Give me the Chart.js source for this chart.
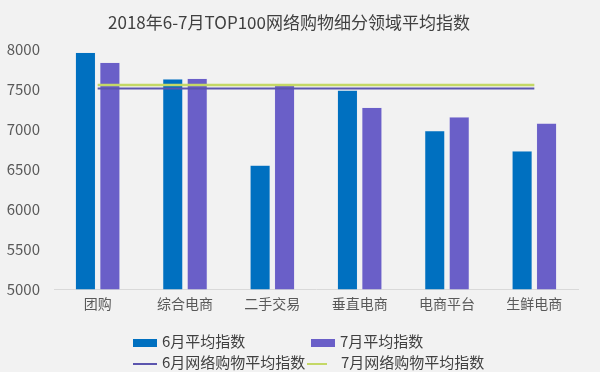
<!DOCTYPE html>
<html>
<head>
<meta charset="utf-8">
<script src="https://cdn.jsdelivr.net/npm/chart.js@4/dist/chart.umd.min.js"></script>
<style>
  body { margin: 0; background: #f2f2f2; }
  #wrap { position: relative; width: 600px; height: 372px; background: #f2f2f2; }
  #legend { position: absolute; left: 133px; top: 330px; font-family: "Noto Sans CJK SC", sans-serif; font-size: 15px; color: #404040; }
  .row { position: relative; height: 21px; }
  .item { position: absolute; top: 0; white-space: nowrap; line-height: 21px; }
  .sw { display: inline-block; vertical-align: middle; margin-right: 5px; }
</style>
</head>
<body>
<div id="wrap">
  <canvas id="chart" width="600" height="372"></canvas>
  <div id="legend"></div>
</div>
<script>
const categories = ['团购', '综合电商', '二手交易', '垂直电商', '电商平台', '生鲜电商']
const juneIndex = [7962, 7630, 6550, 7488, 6983, 6730]
const julyIndex = [7835, 7637, 7550, 7272, 7155, 7075]
// the two averages drawn as flat lines across all categories
const juneAvg = [7512, 7512, 7512, 7512, 7512, 7512]
const julyAvg = [7554, 7554, 7554, 7554, 7554, 7554]
const yTicks = [5000, 5500, 6000, 6500, 7000, 7500, 8000]

const font = '"Noto Sans CJK SC", sans-serif'
const blue = '#0070c0'
const purple = '#6a5fc8'
const lineBlue = '#5b55ae'
const lineGreen = '#c4d866'

const ctx = document.getElementById('chart').getContext('2d')
new Chart(ctx, {
  data: {
    labels: categories,
    datasets: [
      { type: 'line', label: '6月网络购物平均指数', data: juneAvg, borderColor: lineBlue, borderWidth: 2, pointRadius: 0, order: 0 },
      { type: 'line', label: '7月网络购物平均指数', data: julyAvg, borderColor: lineGreen, borderWidth: 2.5, pointRadius: 0, order: 0 },
      { type: 'bar', label: '6月平均指数', data: juneIndex, backgroundColor: blue, borderColor: '#d8e4f0', borderWidth: 0.5, order: 1, categoryPercentage: 0.56, barPercentage: 0.82 },
      { type: 'bar', label: '7月平均指数', data: julyIndex, backgroundColor: purple, borderColor: '#dcd8f0', borderWidth: 0.5, order: 1, categoryPercentage: 0.56, barPercentage: 0.82 }
    ]
  },
  options: {
    responsive: false,
    animation: false,
    layout: { padding: { left: 0, right: 22, top: 2, bottom: 54 } },
    plugins: {
      legend: { display: false },
      tooltip: { enabled: false },
      title: {
        display: true,
        text: '2018年6-7月TOP100网络购物细分领域平均指数',
        color: '#404040',
        font: { family: font, size: 17, weight: 'normal' },
        padding: { top: 10, bottom: 17 }
      }
    },
    scales: {
      x: {
        grid: { display: false, drawTicks: false },
        border: { color: '#d9d9d9' },
        ticks: { color: '#595959', font: { family: font, size: 14 }, padding: 6 }
      },
      y: {
        min: 5000,
        max: 8000,
        afterFit: (scale) => { scale.width = 54 },
        afterBuildTicks: (scale) => { scale.ticks = yTicks.map(v => ({ value: v })) },
        grid: { display: false, drawTicks: false },
        border: { display: false },
        ticks: { color: '#595959', font: { family: font, size: 15 }, padding: 14, callback: (v) => String(v) }
      }
    }
  }
})

// legend laid out in two aligned columns like the original
const legendItems = [
  [{ text: '6月平均指数', color: blue, box: true }, { text: '7月平均指数', color: purple, box: true }],
  [{ text: '6月网络购物平均指数', color: lineBlue, box: false }, { text: '7月网络购物平均指数', color: lineGreen, box: false }]
]
const legend = document.getElementById('legend')
legendItems.forEach(row => {
  const r = document.createElement('div')
  r.className = 'row'
  row.forEach((it, i) => {
    const d = document.createElement('span')
    d.className = 'item'
    const sw = document.createElement('span')
    sw.className = 'sw'
    if (it.box) {
      d.style.left = (i === 0 ? 0 : 178) + 'px'
      sw.style.width = '24px'; sw.style.height = '8px'; sw.style.background = it.color
    } else {
      d.style.left = (i === 0 ? 0 : 174) + 'px'
      sw.style.width = i === 0 ? '24px' : '20px'; sw.style.height = '2px'; sw.style.background = it.color
      if (i === 1) sw.style.marginRight = '14px'
    }
    d.appendChild(sw)
    d.appendChild(document.createTextNode(it.text))
    r.appendChild(d)
  })
  legend.appendChild(r)
})
</script>
</body>
</html>
